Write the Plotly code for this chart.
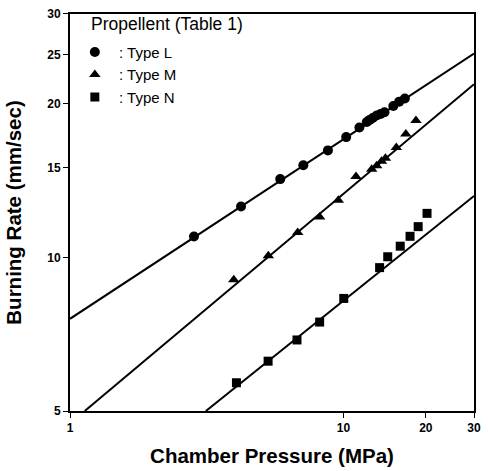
import plotly.graph_objects as go

# Type L (circles)
L_p = [2.84, 4.22, 5.87, 7.13, 8.77, 10.23, 11.43, 12.17, 12.47, 12.79, 13.22, 13.66, 14.12, 15.21, 15.98, 16.76]
L_r = [10.99, 12.58, 14.24, 15.16, 16.21, 17.21, 17.97, 18.43, 18.6, 18.76, 18.97, 19.11, 19.25, 19.8, 20.2, 20.48]
# Type M (triangles)
M_p = [3.97, 5.31, 6.80, 8.18, 9.57, 11.11, 12.68, 13.22, 13.77, 14.23, 15.6, 16.9, 18.4]
M_r = [9.04, 10.07, 11.19, 12.0, 12.95, 14.4, 14.89, 15.13, 15.43, 15.64, 16.43, 17.46, 18.55]
# Type N (squares)
N_p = [4.06, 5.30, 6.76, 8.18, 10.02, 13.55, 14.51, 16.12, 17.51, 18.75, 20.2]
N_r = [5.68, 6.26, 6.89, 7.47, 8.31, 9.55, 10.03, 10.52, 11.0, 11.49, 12.2]

# Fitted line end points
fitL_p = [1, 30]
fitL_r = [7.58, 25.1]
fitM_p = [1.132, 30]
fitM_r = [5.0, 21.85]
fitN_p = [3.14, 30]
fitN_r = [5.0, 13.19]

x_ticks = [1, 10, 20, 30]
y_ticks = [5, 10, 15, 20, 25, 30]

FONT = "Liberation Sans, Arial, sans-serif"

fig = go.Figure()
for px_, ry in [(fitL_p, fitL_r), (fitM_p, fitM_r), (fitN_p, fitN_r)]:
    fig.add_trace(go.Scatter(x=px_, y=ry, mode="lines", line=dict(color="black", width=2),
                             showlegend=False, hoverinfo="skip"))

for name, xs, ys, sym, sz in [(" : Type L", L_p, L_r, "circle", 10),
                              (" : Type M", M_p, M_r, "triangle-up", 10),
                              (" : Type N", N_p, N_r, "square", 9)]:
    fig.add_trace(go.Scatter(x=xs, y=ys, mode="markers", name=name,
                             marker=dict(symbol=sym, size=sz, color="black", line=dict(width=0))))

fig.update_layout(
    width=488, height=471,
    margin=dict(l=70, r=7, t=12, b=60),
    paper_bgcolor="white", plot_bgcolor="white",
    font=dict(family=FONT, color="black"),
    showlegend=True,
    legend=dict(x=0.012, y=0.945, xanchor="left", yanchor="top",
                bgcolor="rgba(0,0,0,0)", font=dict(size=15, family=FONT),
                tracegroupgap=0, itemsizing="trace"),
    annotations=[dict(text="Propellent (Table 1)", x=0.048, y=1.005, xref="paper", yref="paper",
                      xanchor="left", yanchor="top", showarrow=False,
                      font=dict(size=17.5, family=FONT))],
)

fig.update_xaxes(type="log", range=[0, 1.4771], tickmode="array", tickvals=x_ticks,
                 ticktext=[str(v) for v in x_ticks],
                 showline=True, linecolor="black", linewidth=2, mirror=True,
                 ticks="outside", ticklen=5, tickcolor="black", showgrid=False, zeroline=False,
                 tickfont=dict(size=12, family=FONT, weight="bold"),
                 title=dict(text="Chamber Pressure (MPa)", font=dict(size=20.5, family=FONT, weight="bold"),
                            standoff=14))
fig.update_yaxes(type="log", range=[0.69897, 1.4771], tickmode="array", tickvals=y_ticks,
                 ticktext=[str(v) for v in y_ticks],
                 showline=True, linecolor="black", linewidth=2, mirror=True,
                 ticks="outside", ticklen=5, tickcolor="black", showgrid=False, zeroline=False,
                 tickfont=dict(size=12, family=FONT, weight="bold"),
                 title=dict(text="Burning Rate (mm/sec)", font=dict(size=20.5, family=FONT, weight="bold"),
                            standoff=20))

fig.write_html("out.html", config={"displayModeBar": False},
               post_script="document.body.style.margin='0';document.body.style.padding='0';")
